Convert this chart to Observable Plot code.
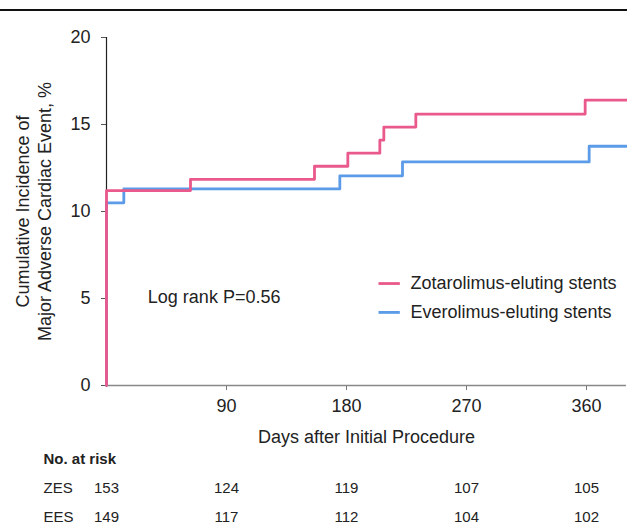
<!DOCTYPE html>
<html><head><meta charset="utf-8">
<script src="https://cdn.jsdelivr.net/npm/d3@7"></script>
<script src="https://cdn.jsdelivr.net/npm/@observablehq/plot@0.6"></script>
<style>
body{margin:0;background:#fff;font-family:"Liberation Sans",Arial,sans-serif;}
#topline{height:9px;border-bottom:2px solid #111;width:627px;}
#chart svg{display:block;}
</style></head><body>
<div id="topline"></div>
<div id="chart"></div>
<script>
// Kaplan-Meier style cumulative incidence (%), step curves
const zesDays = [0, 0, 63, 156, 181, 205, 208, 232, 359, 390];
const zesPct  = [0, 11.2, 11.85, 12.6, 13.35, 14.1, 14.85, 15.6, 16.4, 16.4];
const eesDays = [0, 0, 13, 175, 222, 362, 390];
const eesPct  = [0, 10.5, 11.3, 12.05, 12.85, 13.75, 13.75];

const seriesNames = ["Zotarolimus-eluting stents", "Everolimus-eluting stents"];
const seriesColors = ["#e9598b", "#5b9be8"];

const xTicks = [90, 180, 270, 360];
const yTicks = [0, 5, 10, 15, 20];

const riskDays = [0, 90, 180, 270, 360];
const riskZES = [153, 124, 119, 107, 105];
const riskEES = [149, 117, 112, 104, 102];
const riskGroups = ["ZES", "EES"];

const pLabel = "Log rank P=0.56";
const pAnchor = {day: 31, pct: 5.05};
const legendAnchor = {day1: 204, day2: 220, textDay: 228, pct: [5.86, 4.2]};

const zes = zesDays.map((d, i) => ({day: d, pct: zesPct[i]}));
const ees = eesDays.map((d, i) => ({day: d, pct: eesPct[i]}));
const legend = seriesNames.map((n, i) => ({name: n, color: seriesColors[i], pct: legendAnchor.pct[i]}));

const font = '"Liberation Sans", Arial, sans-serif';
const rowDy = [103, 132];

const riskMarks = [riskZES, riskEES].flatMap((vals, r) => [
  Plot.text([riskGroups[r]], {frameAnchor: "bottom-left", text: d => d, dx: -63, dy: rowDy[r],
    textAnchor: "start", lineAnchor: "middle", fontSize: 15, fill: "#222"}),
  Plot.text(vals.map((v, i) => ({day: riskDays[i], n: v})), {x: "day", frameAnchor: "bottom", text: "n",
    dy: rowDy[r], lineAnchor: "middle", fontSize: 15, fill: "#222"})
]);

const plot = Plot.plot({
  width: 627, height: 514,
  marginLeft: 106, marginRight: 1, marginTop: 26, marginBottom: 140,
  style: {fontFamily: font, fontSize: "18px", color: "#222", background: "#fff", overflow: "visible"},
  x: {domain: [0, 390]},
  y: {domain: [0, 20]},
  marks: [
    Plot.axisX({ticks: xTicks, tickSize: 5, tickPadding: 9, label: null, stroke: "#777", fill: "#222", fontSize: 18}),
    Plot.axisY({ticks: yTicks, tickSize: 5, tickPadding: 11, label: null, stroke: "#555", fill: "#222", fontSize: 18}),
    Plot.ruleY([0], {stroke: "#888", strokeWidth: 1.5}),
    Plot.ruleX([0], {y1: 0, y2: 20, stroke: "#222", strokeWidth: 1.2}),
    Plot.line(ees, {x: "day", y: "pct", curve: "step-after", stroke: seriesColors[1], strokeWidth: 2.8}),
    Plot.line(zes, {x: "day", y: "pct", curve: "step-after", stroke: seriesColors[0], strokeWidth: 2.8}),
    Plot.text([pLabel], {x: pAnchor.day, y: pAnchor.pct, text: d => d, textAnchor: "start", fontSize: 18, fill: "#222"}),
    Plot.link(legend, {x1: legendAnchor.day1, x2: legendAnchor.day2, y1: "pct", y2: "pct", stroke: "color", strokeWidth: 2.8}),
    Plot.text(legend, {x: legendAnchor.textDay, y: "pct", text: "name", textAnchor: "start", fontSize: 18, fill: "#222"}),
    // y axis title (two lines)
    Plot.text(["Cumulative Incidence of\nMajor Adverse Cardiac Event, %"], {
      frameAnchor: "left", text: d => d, rotate: -90, dx: -74, lineHeight: 1.22,
      lineAnchor: "middle", textAnchor: "middle", fontSize: 18, fill: "#222"}),
    // x axis title
    Plot.text(["Days after Initial Procedure"], {frameAnchor: "bottom", text: d => d, dy: 52,
      lineAnchor: "middle", fontSize: 18, fill: "#222"}),
    // number at risk table
    Plot.text(["No. at risk"], {frameAnchor: "bottom-left", text: d => d, dx: -63, dy: 74,
      textAnchor: "start", lineAnchor: "middle", fontSize: 15, fontWeight: "bold", fill: "#222"}),
    ...riskMarks
  ]
});
document.getElementById("chart").appendChild(plot);
</script>
</body></html>
